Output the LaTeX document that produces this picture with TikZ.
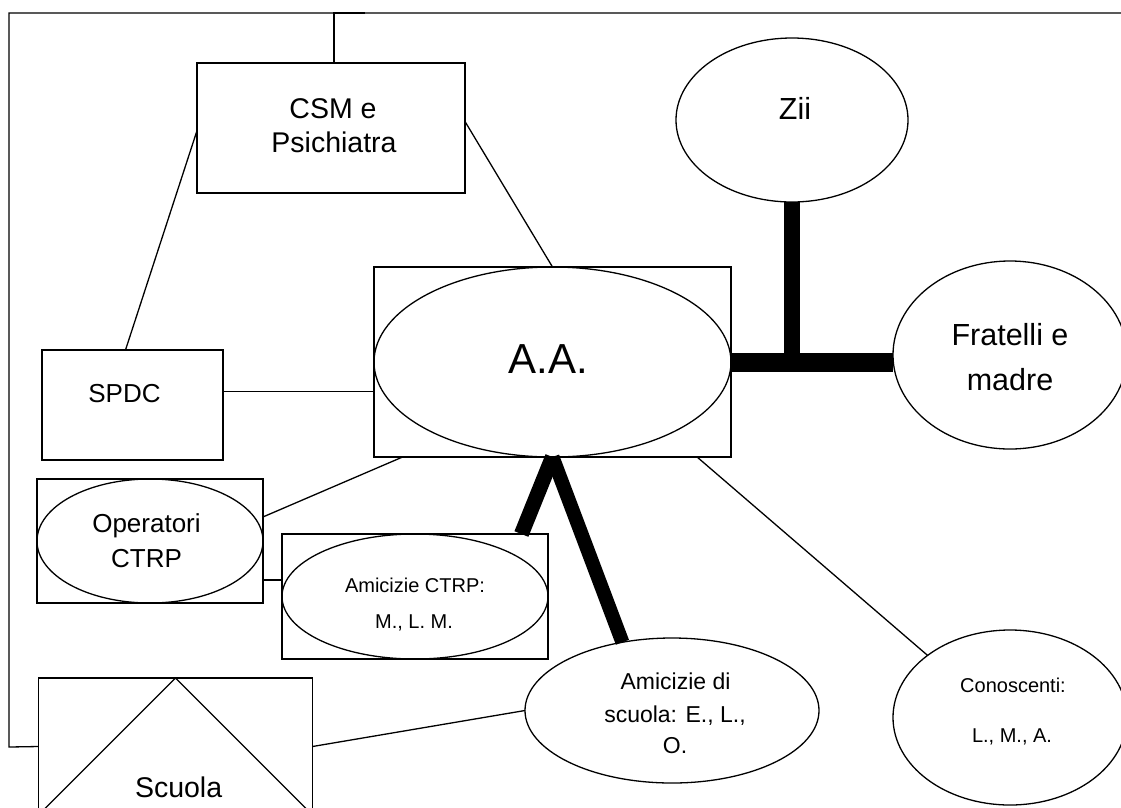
\documentclass[tikz,border=0pt]{standalone}
\usepackage{fontspec}
\setmainfont{Liberation Sans}
\usetikzlibrary{shapes.geometric,calc}
\tikzset{
  thin line/.style={line width=1.3pt},
  boxshape/.style={draw, thin line, rectangle, inner sep=0pt, outer sep=0pt},
  ovalshape/.style={draw, thin line, ellipse, inner sep=0pt, outer sep=0pt},
  strongtie/.style={line width=15pt, line cap=butt},
  txt/.style={anchor=base, inner sep=0pt, outer sep=0pt},
  fbig/.style={font=\fontsize{28.5}{34}\selectfont},
  fbigger/.style={font=\fontsize{30.5}{36}\selectfont},
  fhuge/.style={font=\fontsize{42}{50}\selectfont},
  fmid/.style={font=\fontsize{26}{31}\selectfont},
  fsmall/.style={font=\fontsize{20}{24}\selectfont},
  fsch/.style={font=\fontsize{23}{27}\selectfont},
  fcon/.style={font=\fontsize{20}{23}\selectfont},
}
\begin{document}
\begin{tikzpicture}[x=1pt, y=-1pt]
\useasboundingbox (0,0) rectangle (1121,807);
\clip (0,0) rectangle (1121,807);
\fill[white] (0,0) rectangle (1121,807);

% shapes
\node[boxshape, minimum width=268pt, minimum height=130pt] (csm) at (331,128) {};
\node[boxshape, minimum width=181pt, minimum height=110pt] (spdc) at (132.5,405) {};
\node[boxshape, minimum width=357pt, minimum height=190pt] (aabox) at (552.5,362) {};
\node[ovalshape, minimum width=357pt, minimum height=190pt] (aa) at (552.5,362) {};
\node[boxshape, minimum width=226pt, minimum height=124pt] (opbox) at (150,541) {};
\node[ovalshape, minimum width=226pt, minimum height=124pt] (op) at (150,541) {};
\node[boxshape, minimum width=266pt, minimum height=125pt] (ctrpbox) at (415,596.5) {};
\node[ovalshape, minimum width=266pt, minimum height=125pt] (ctrp) at (415,596.5) {};
\node[boxshape, minimum width=274pt, minimum height=137pt] (scuola) at (175.5,746.5) {};
\node[ovalshape, minimum width=232pt, minimum height=164pt] (zii) at (792,120) {};
\node[ovalshape, minimum width=234pt, minimum height=188pt] (frat) at (1010,355) {};
\node[ovalshape, minimum width=234pt, minimum height=175pt] (cono) at (1010,717.5) {};
\node[ovalshape, minimum width=294pt, minimum height=145pt] (amsc) at (672,710.5) {};

% triangle inside Scuola
\draw[thin line] (scuola.south west) -- (scuola.north) -- (scuola.south east);

% outer frame connector
\coordinate (frbl) at (9,747);
\coordinate (frtl) at (9,13);
\coordinate (frtr) at (1125,13);
\coordinate (frtick) at (365,13);
\coordinate (csmtop) at ($(csm.north)+(3,0)$);
\draw[thin line] (scuola.west) -- (frbl) -- (frtl) -- (frtr);
\draw[thin line] (csmtop) -- (csmtop |- frtl) -- (frtick);

% thin connectors
\draw[thin line] ($(csm.north west)!0.52!(csm.south west)$) -- ($(spdc.north)+(-7,0)$);
\draw[thin line] ($(csm.north east)!0.45!(csm.south east)$) -- (aabox.north);
\coordinate (spdcout) at ($(spdc.north east)!0.375!(spdc.south east)$);
\draw[thin line] (spdcout) -- (spdcout -| aabox.west);
\draw[thin line] ($(opbox.north east)!0.306!(opbox.south east)$) -- ($(aabox.south west)!0.08!(aabox.south east)$);
\coordinate (opout) at ($(opbox.north east)!0.815!(opbox.south east)$);
\draw[thin line] (opout) -- (opout -| ctrpbox.west);
\draw[thin line] ($(aabox.south west)!0.905!(aabox.south east)$) -- (cono.143);
\draw[thin line] (scuola.east) -- (amsc.west);

% strong ties
\draw[line width=19pt, line cap=butt] (aabox.east) -- (aabox.east -| frat.west);
\draw[line width=16pt, line cap=butt] (zii.south) -- (zii.south |- aabox.east);
\draw[strongtie] (aa.south) -- ($(ctrpbox.north west)!0.90!(ctrpbox.north east)$);
\draw[strongtie, line width=14pt] (aa.south) -- (amsc.126);

% texts
\node[txt, fbig] (tcsm1) at (333,118) {CSM e};
\node[txt, fbig] (tcsm2) at (334,152) {Psichiatra};
\node[txt, fbigger] (tzii) at (795,119) {Zii};
\node[txt, fhuge] (taa) at (548.5,373) {A.A.};
\node[txt, fbigger] (tfrat1) at (1010,345) {Fratelli e};
\node[txt, fbigger] (tfrat2) at (1010,390) {madre};
\node[txt, fmid] (tspdc) at (124.5,402) {SPDC};
\node[txt, fmid] (top1) at (146.5,532) {Operatori};
\node[txt, fmid] (top2) at (146.5,567) {CTRP};
\node[txt, fsmall] (tctrp1) at (415,592) {Amicizie CTRP:};
\node[txt, fsmall] (tctrp2) at (414,628) {M., L. M.};
\node[txt, fsch] (tsc1) at (675.5,689) {Amicizie di};
\node[txt, fsch] (tsc2) at (675,722) {scuola: E., L.,};
\node[txt, fsch] (tsc3) at (675,753) {O.};
\node[txt, fcon] (tcon1) at (1013,692) {Conoscenti:};
\node[txt, fcon] (tcon2) at (1012,742) {L., M., A.};
\node[txt, fbig] (tscuola) at (178.6,797) {Scuola};
\end{tikzpicture}
\end{document}
